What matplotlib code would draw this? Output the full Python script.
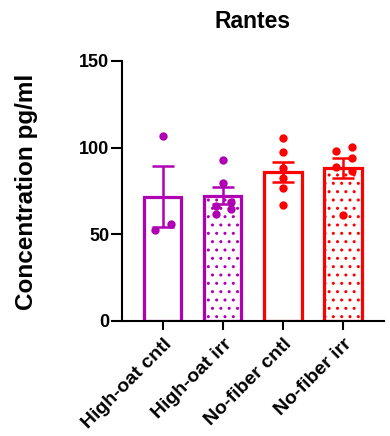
import numpy as np
import matplotlib
matplotlib.use("Agg")
import matplotlib.pyplot as plt

plt.rcParams['font.family'] = ['Liberation Sans', 'DejaVu Sans']
plt.rcParams['hatch.linewidth'] = 1.0

groups = ["High-oat cntl", "High-oat irr", "No-fiber cntl", "No-fiber irr"]
values = [
    [106.5, 52.7, 56.0],
    [93.0, 79.6, 68.7, 66.4, 64.7, 61.8],
    [105.3, 97.3, 88.0, 82.4, 76.7, 67.0],
    [97.9, 100.2, 93.9, 88.7, 86.4, 61.2],
]
# horizontal spread of individual points around each bar centre
jitter = [
    [0.0, -0.13, 0.13],
    [0.0, 0.0, 0.13, -0.12, 0.13, -0.12],
    [0.0, 0.0, 0.0, 0.0, 0.0, 0.0],
    [-0.12, 0.145, 0.145, -0.12, 0.145, 0.0],
]
colors = ['#B000B4', '#B000B4', '#FF0000', '#FF0000']
hatches = [None, '..', None, '..']

fig = plt.figure(figsize=(3.9, 4.36), dpi=100)
ax = fig.add_axes([0.3128, 0.2638, 0.9846 - 0.3128, 0.8601 - 0.2638])

x = np.arange(len(groups))
for i, vals in enumerate(values):
    v = np.array(vals)
    mean = v.mean()
    sem = v.std(ddof=1) / np.sqrt(len(v))
    ax.bar(x[i], mean, width=0.62, facecolor='white', edgecolor=colors[i],
           linewidth=2.3, hatch=hatches[i], zorder=2)
    ax.errorbar(x[i], mean, yerr=sem, color=colors[i], elinewidth=1.8,
                capsize=8, capthick=1.8, zorder=3)
    ax.plot(x[i] + np.array(jitter[i]), v, 'o', color=colors[i], ms=6,
            markeredgewidth=0, zorder=4)

ax.set_xlim(-0.68, 3.683)
ax.set_ylim(0, 150)
ax.set_yticks([0, 50, 100, 150])
ax.set_xticks(x)
ax.set_xticklabels(groups, rotation=45, ha='right', rotation_mode='anchor',
                   fontsize=14, fontweight='bold')
for lbl in ax.get_yticklabels():
    lbl.set_fontweight('bold')
ax.tick_params(axis='y', labelsize=13, length=8, width=1.5, pad=1)
ax.tick_params(axis='x', length=6.5, width=1.5, pad=4)

for side in ['top', 'right']:
    ax.spines[side].set_visible(False)
for side in ['left', 'bottom']:
    ax.spines[side].set_linewidth(1.5)

ax.set_ylabel("Concentration pg/ml", fontsize=17.5, fontweight='bold')
ax.yaxis.set_label_coords(-0.32, 0.496)
ax.set_title("Rantes", fontsize=16.5, fontweight='bold', pad=24)

fig.savefig("out.png", dpi=100)
